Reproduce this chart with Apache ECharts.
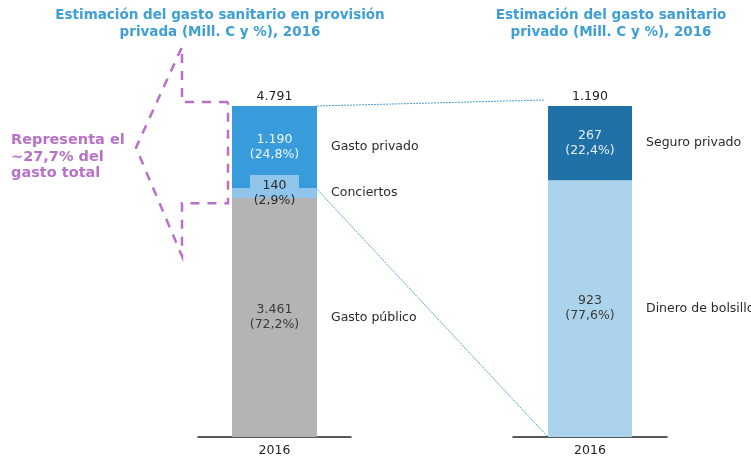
<!DOCTYPE html>
<html><head><meta charset="utf-8">
<script src="https://cdn.jsdelivr.net/npm/echarts@6/dist/echarts.min.js"></script>
<style>html,body{margin:0;padding:0;background:#fff}#c{width:751px;height:460px}</style>
</head><body><div id="c"></div>
<script>
// ---- data ----
const years = ['2016'];
const leftNames = ['Gasto público', 'Conciertos', 'Gasto privado'];
const leftValues = [3461, 140, 1190];
const leftPct = ['72,2%', '2,9%', '24,8%'];
const leftTotal = [4791];
const rightNames = ['Dinero de bolsillo', 'Seguro privado'];
const rightValues = [923, 267];
const rightPct = ['77,6%', '22,4%'];
const rightTotal = [1190];
const leftTitle = 'Estimación del gasto sanitario en provisión\nprivada (Mill. C y %), 2016';
const rightTitle = 'Estimación del gasto sanitario\nprivado (Mill. C y %), 2016';
const noteText = 'Representa el\n~27,7% del\ngasto total';

// ---- styles ----
const FONT = 'DejaVu Sans';
const leftColors = ['#b4b4b4', '#8fc5ea', '#389bdb'];
const leftLabelColors = ['#3a3a3a', '#2a2a2a', '#eef6fc'];
const rightColors = ['#abd3eb', '#1f71a8'];
const rightLabelColors = ['#3a3a3a', '#e6f0f8'];
const TITLE_COLOR = '#3d9fd6';
const PURPLE = '#b772c8';
const LW = 85, RW = 84;

function fmt(n) { return String(n).replace(/\B(?=(\d{3})+(?!\d))/g, '.'); }

function buildSeries(gi, names, values, pcts, colors, lcolors, bw, total) {
  const out = [];
  names.forEach((nm, i) => {
    const small = nm === 'Conciertos';
    out.push({
      type: 'bar', name: nm, xAxisIndex: gi, yAxisIndex: gi, stack: 's' + gi,
      barWidth: bw, barGap: '-100%', data: [values[i]], silent: true,
      itemStyle: { color: colors[i] },
      label: small ? {
        show: true, position: 'inside',
        formatter: '{a|' + fmt(values[i]) + '}\n{b|(' + pcts[i] + ')}',
        rich: {
          a: { fontFamily: FONT, fontSize: 12.5, color: lcolors[i], backgroundColor: colors[i], width: 49, align: 'center', lineHeight: 16, height: 16, padding: [3, 0, 0, 0] },
          b: { fontFamily: FONT, fontSize: 12.5, color: lcolors[i], lineHeight: 17, align: 'center' }
        }
      } : {
        show: true, position: 'inside', fontFamily: FONT, fontSize: 12.5, lineHeight: 15,
        color: lcolors[i], formatter: fmt(values[i]) + '\n(' + pcts[i] + ')'
      }
    });
  });
  names.forEach((nm, i) => {
    out.push({
      type: 'bar', name: nm + ' ', xAxisIndex: gi, yAxisIndex: gi, stack: 'n' + gi,
      barWidth: bw, barGap: '-100%', data: [values[i]], silent: true,
      itemStyle: { color: 'rgba(0,0,0,0)' },
      label: { show: true, position: 'right', distance: 14, fontFamily: FONT, fontSize: 12.5, color: '#2a2a2a', formatter: nm }
    });
  });
  out.push({
    type: 'bar', name: 'total' + gi, xAxisIndex: gi, yAxisIndex: gi,
    barWidth: bw, barGap: '-100%', data: total, silent: true, z: 1,
    itemStyle: { color: 'rgba(0,0,0,0)' },
    label: { show: true, position: 'top', distance: 3, fontFamily: FONT, fontSize: 12.5, color: '#222', formatter: p => fmt(p.value) }
  });
  return out;
}

const chart = echarts.init(document.getElementById('c'), null, { renderer: 'canvas' });
const xAxisBase = {
  type: 'category', data: years,
  axisLine: { lineStyle: { color: '#222', width: 1.5 } },
  axisTick: { show: false },
  axisLabel: { fontFamily: FONT, fontSize: 12.5, color: '#222', margin: 7 }
};
const option = {
  backgroundColor: '#ffffff',
  animation: false,
  grid: [
    { left: 198, width: 153, top: 106, bottom: 23 },
    { left: 513, width: 154, top: 106, bottom: 23 }
  ],
  xAxis: [Object.assign({ gridIndex: 0 }, xAxisBase), Object.assign({ gridIndex: 1 }, xAxisBase)],
  yAxis: [
    { gridIndex: 0, type: 'value', min: 0, max: leftTotal[0], show: false },
    { gridIndex: 1, type: 'value', min: 0, max: rightTotal[0], show: false }
  ],
  series: buildSeries(0, leftNames, leftValues, leftPct, leftColors, leftLabelColors, LW, leftTotal)
    .concat(buildSeries(1, rightNames, rightValues, rightPct, rightColors, rightLabelColors, RW, rightTotal))
};
chart.setOption(option);

// ---- annotations derived from the axes ----
const px = (gi, v) => chart.convertToPixel({ gridIndex: gi }, [years[0], v]);
const lTop = px(0, leftTotal[0]);
const lPrivBot = px(0, leftValues[0] + leftValues[1]);
const rTop = px(1, rightTotal[0]);
const rBase = px(1, 0);
const lRight = lTop[0] + LW / 2, lLeft = lTop[0] - LW / 2;
const rLeft = rTop[0] - RW / 2;

const bTop = lTop[1] - 4, bBot = lPrivBot[1] + 15;
const xIn = lLeft - 4, xStem = lLeft - 50, xTip = lLeft - 96;
const yTip = (bTop + bBot) / 2 - 5;

chart.setOption({
  graphic: [
    { type: 'text', x: 220, y: 7, style: { text: leftTitle, font: 'bold 13.5px "' + FONT + '"', fill: TITLE_COLOR, align: 'center', lineHeight: 17 } },
    { type: 'text', x: 611, y: 7, style: { text: rightTitle, font: 'bold 13.5px "' + FONT + '"', fill: TITLE_COLOR, align: 'center', lineHeight: 17 } },
    { type: 'text', x: 11, y: 132, style: { text: noteText, font: 'bold 14.5px "' + FONT + '"', fill: PURPLE, lineHeight: 16.5 } },
    { type: 'line', shape: { x1: lRight, y1: lTop[1], x2: rLeft - 3, y2: rTop[1] - 6 }, style: { stroke: '#4f9fd2', lineWidth: 1, lineDash: [2, 1] } },
    { type: 'line', shape: { x1: lRight, y1: lPrivBot[1] + 1, x2: rLeft, y2: rBase[1] }, style: { stroke: '#4f9fd2', lineWidth: 1, lineDash: [2, 1] } },
    { type: 'polyline', z: 10, shape: { points: [
        [xIn, bTop], [xStem, bTop], [xStem, bTop - 55], [xTip, yTip], [xStem, bBot + 53], [xStem, bBot], [xIn, bBot], [xIn, bTop]
      ] }, style: { stroke: PURPLE, lineWidth: 2.5, lineDash: [9, 8], fill: null } }
  ]
});
</script>
</body></html>
